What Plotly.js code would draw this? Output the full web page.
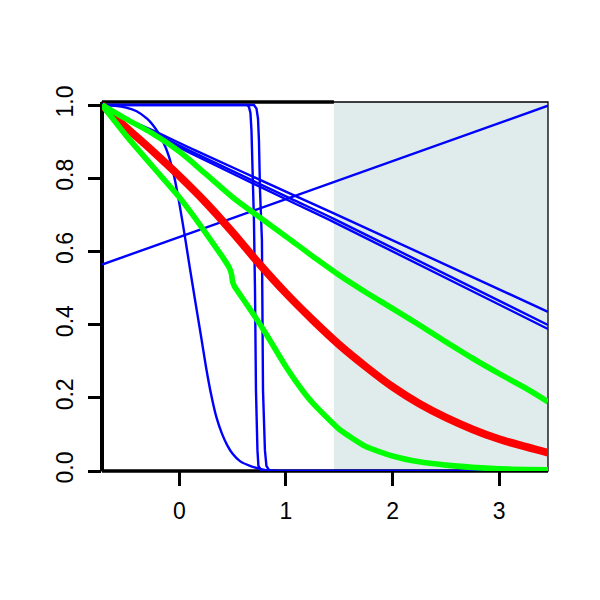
<!DOCTYPE html>
<html>
<head>
<meta charset="utf-8">
<script src="https://cdn.plot.ly/plotly-3.0.1.min.js"></script>
<style>html,body{margin:0;padding:0;background:#fff;}#chart{width:600px;height:600px;}</style>
</head>
<body>
<div id="chart"></div>
<script>
// ---- data ----
const xTicks = [0, 1, 2, 3];
const xTickText = ["0", "1", "2", "3"];
const yTicks = [0, 0.2, 0.4, 0.6, 0.8, 1.0];
const yTickText = ["0.0", "0.2", "0.4", "0.6", "0.8", "1.0"];

const shadeStart = 1.45;

// blue increasing straight line
const blueUpX = [-0.725, 3.458];
const blueUpY = [0.564, 0.998];

// three blue decreasing near-straight lines
const blueLineX = [-0.725, -0.45, -0.26, 0.15, 1.04, 1.45, 3.458];
const blueLine1Y = [1, 0.956, 0.932, 0.876, 0.758, 0.704, 0.435];
const blueLine2Y = [1, 0.954, 0.927, 0.868, 0.745, 0.689, 0.399];
const blueLine3Y = [1, 0.952, 0.923, 0.862, 0.737, 0.680, 0.388];

// blue smooth sigmoid curve
const blueSigX = [-0.725, -0.6, -0.5, -0.4, -0.3, -0.25, -0.2, -0.15, -0.1, -0.05, 0.0, 0.05, 0.1, 0.15, 0.2, 0.25, 0.3, 0.35, 0.4, 0.45, 0.5, 0.569, 0.663, 0.757, 0.85, 3.458];
const blueSigY = [1, 0.998, 0.993, 0.983, 0.962, 0.946, 0.925, 0.898, 0.862, 0.807, 0.732, 0.645, 0.553, 0.463, 0.375, 0.285, 0.207, 0.145, 0.102, 0.07, 0.047, 0.027, 0.014, 0.006, 0.001, 0];

// blue steep step curves
const blueStepAX = [-0.725, 0.569, 0.635, 0.653, 0.667, 0.677, 0.686, 0.700, 0.710, 0.719, 0.733, 0.742, 0.766, 0.85, 3.458];
const blueStepAY = [1, 1, 1, 0.995, 0.979, 0.93, 0.835, 0.685, 0.494, 0.221, 0.057, 0.014, 0.003, 0, 0];
const blueStepBX = [-0.725, 0.663, 0.700, 0.724, 0.738, 0.747, 0.757, 0.775, 0.780, 0.785, 0.803, 0.817, 0.840, 0.897, 3.458];
const blueStepBY = [1, 1, 1, 0.99, 0.963, 0.903, 0.766, 0.63, 0.466, 0.221, 0.057, 0.014, 0.003, 0, 0];

// red thick curve
const redX = [-0.725, -0.5, -0.25, 0.0, 0.25, 0.5, 0.75, 1.0, 1.25, 1.5, 1.75, 2.0, 2.25, 2.5, 2.75, 3.0, 3.25, 3.458];
const redY = [1.0, 0.939, 0.874, 0.806, 0.733, 0.652, 0.566, 0.486, 0.413, 0.345, 0.285, 0.230, 0.184, 0.146, 0.114, 0.087, 0.066, 0.050];

// green upper curve
const greenUpX = [-0.725, -0.5, -0.25, 0.0, 0.25, 0.5, 0.75, 1.0, 1.25, 1.5, 1.75, 2.0, 2.25, 2.5, 2.75, 3.0, 3.25, 3.458];
const greenUpY = [1.0, 0.962, 0.922, 0.873, 0.811, 0.748, 0.694, 0.641, 0.587, 0.535, 0.488, 0.444, 0.399, 0.353, 0.308, 0.266, 0.226, 0.189];

// green lower curve (with kink near 0.5)
const greenLoX = [-0.725, -0.5, -0.25, 0.0, 0.1, 0.2, 0.3, 0.4, 0.47, 0.49, 0.5, 0.52, 0.55, 0.65, 0.75, 0.85, 1.0, 1.15, 1.25, 1.5, 1.75, 2.0, 2.25, 2.5, 2.75, 3.0, 3.25, 3.458];
const greenLoY = [1.0, 0.917, 0.832, 0.748, 0.710, 0.670, 0.629, 0.587, 0.555, 0.537, 0.517, 0.503, 0.490, 0.448, 0.404, 0.357, 0.285, 0.222, 0.186, 0.114, 0.067, 0.041, 0.025, 0.016, 0.010, 0.006, 0.004, 0.003];

// ---- traces ----
const BLUE = "#0000ff", RED = "#ff0000", GREEN = "#00ff00";
function line(x, y, color, width, smooth) {
  const ln = {color: color, width: width};
  if (smooth) { ln.shape = "spline"; ln.smoothing = smooth; }
  return {x: x, y: y, type: "scatter", mode: "lines", line: ln, hoverinfo: "skip", showlegend: false};
}
const traces = [
  line(blueUpX, blueUpY, BLUE, 2.4),
  line(blueLineX, blueLine1Y, BLUE, 2.4, 0.8),
  line(blueLineX, blueLine2Y, BLUE, 2.4, 0.8),
  line(blueLineX, blueLine3Y, BLUE, 2.4, 0.8),
  line(blueSigX, blueSigY, BLUE, 2.4, 0.6),
  line(blueStepAX, blueStepAY, BLUE, 2.4),
  line(blueStepBX, blueStepBY, BLUE, 2.4),
  line(redX, redY, RED, 7.8, 1),
  line(greenUpX, greenUpY, GREEN, 5.6, 1),
  line(greenLoX, greenLoY, GREEN, 5.6, 0.5)
];

const fontFam = "Liberation Sans, Arial, sans-serif";
const layout = {
  width: 600, height: 600,
  margin: {l: 102, r: 52, t: 102, b: 129, pad: 0},
  paper_bgcolor: "#ffffff", plot_bgcolor: "#ffffff",
  font: {family: fontFam, size: 18, color: "#000"},
  xaxis: {
    range: [-0.725, 3.458], showgrid: false, zeroline: false, showline: false,
    tickmode: "array", tickvals: xTicks, ticktext: xTickText,
    ticks: "outside", ticklen: 14, tickwidth: 3, tickcolor: "#000",
    tickfont: {family: fontFam, size: 23, color: "#000"}, ticklabelstandoff: 5
  },
  yaxis: {
    range: [0, 1.0082], showgrid: false, zeroline: false, showline: false,
    tickmode: "array", tickvals: yTicks, ticktext: yTickText,
    ticks: "outside", ticklen: 13, tickwidth: 3, tickcolor: "#000",
    tickangle: -90,
    tickfont: {family: fontFam, size: 23, color: "#000"}, ticklabelstandoff: 6
  },
  shapes: [
    {type: "rect", layer: "below", xref: "x", yref: "paper", x0: shadeStart, x1: 3.458, y0: 0, y1: 1,
     fillcolor: "rgb(224,236,236)", line: {width: 0}},
    {type: "rect", layer: "below", xref: "paper", yref: "paper", x0: 0, x1: 1, y0: 0, y1: 1,
     fillcolor: "rgba(0,0,0,0)", line: {color: "#000", width: 1.3}},
    {type: "line", layer: "below", xref: "paper", yref: "paper", x0: 0, x1: 0, y0: 0, y1: 1,
     line: {color: "#000", width: 4}},
    {type: "line", layer: "below", xref: "paper", yref: "paper", x0: 0, x1: 1, y0: 0, y1: 0,
     line: {color: "#000", width: 3.5}},
    {type: "line", layer: "below", xref: "x", yref: "paper", x0: -0.725, x1: shadeStart, y0: 1, y1: 1,
     line: {color: "#000", width: 3.5}}
  ]
};

Plotly.newPlot("chart", traces, layout, {staticPlot: true, displayModeBar: false});
</script>
</body>
</html>
